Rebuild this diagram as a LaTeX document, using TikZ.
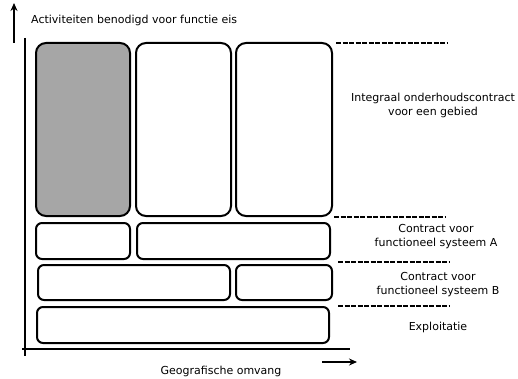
\documentclass[tikz,border=0pt]{standalone}
\usepackage{fontspec}
\setmainfont{DejaVu Sans}
\usetikzlibrary{arrows.meta}
\begin{document}
\begin{tikzpicture}[x=1pt,y=-1pt,
  cell/.style={draw=black, line width=2pt, rounded corners=6pt, inner sep=0pt},
  tall/.style={cell, rounded corners=10pt},
  axis/.style={line width=2.2pt},
  dir/.style={line width=2.2pt, -{Stealth[length=8pt,width=7pt]}},
  level/.style={line width=2pt, dash pattern=on 5pt off 1.5pt},
  lbl/.style={font=\fontsize{11}{14}\selectfont, align=center, inner sep=0pt}]
  \useasboundingbox (0,0) rectangle (518,379);
  % axes
  \draw[axis] (25,38) -- (25,356);
  \draw[axis] (22,349) -- (350,349);
  \draw[dir] (14,43) -- (14,3);
  \draw[dir] (322,362) -- (357,362);
  % top row of activities
  \draw[tall, fill={rgb,255:red,166;green,166;blue,166}] (36,43) rectangle (130,216);
  \draw[tall] (136,43) rectangle (231,216);
  \draw[tall] (236,43) rectangle (332,216);
  % system A
  \draw[cell] (36,223) rectangle (130,259);
  \draw[cell] (137,223) rectangle (330,259);
  % system B
  \draw[cell] (38,265) rectangle (230,300);
  \draw[cell] (236,265) rectangle (332,300);
  % exploitation
  \draw[cell] (37,307) rectangle (329,343);
  % level separators
  \draw[level] (336,43) -- (448,43);
  \draw[level] (334,217) -- (445,217);
  \draw[level] (338,262) -- (450,262);
  \draw[level] (338,306) -- (449,306);
  % labels
  \node[lbl, anchor=west] (ya) at (31,20) {Activiteiten benodigd voor functie eis};
  \node[lbl] (xa) at (221,371) {Geografische omvang};
  \node[lbl] (l1) at (433,105) {Integraal onderhoudscontract\\voor een gebied};
  \node[lbl] (l2) at (436,237) {Contract voor\\functioneel systeem A};
  \node[lbl] (l3) at (438,285) {Contract voor\\functioneel systeem B};
  \node[lbl] (l4) at (438,327) {Exploitatie};
\end{tikzpicture}
\end{document}
